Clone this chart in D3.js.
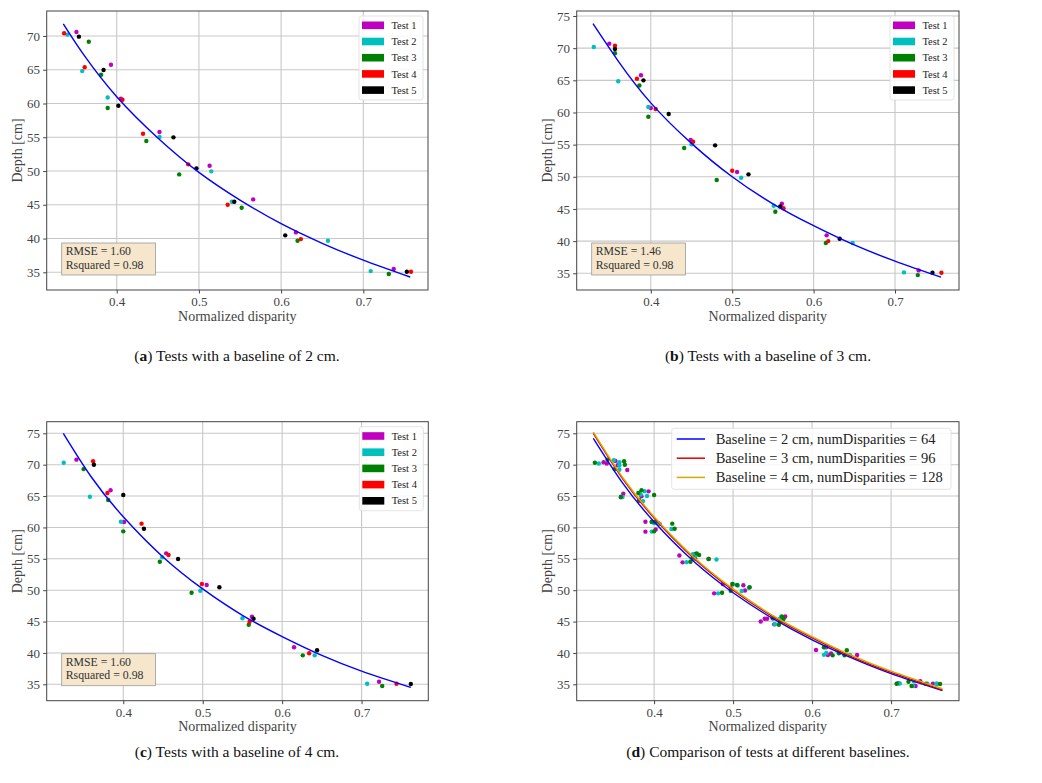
<!DOCTYPE html>
<html>
<head>
<meta charset="utf-8">
<script src="https://cdn.jsdelivr.net/npm/d3@7"></script>
<style>
  body { margin: 0; background: #fff; }
  svg text { font-family: "Liberation Serif", "Times New Roman", serif; }
</style>
</head>
<body>
<div id="chart"></div>
<script>
var testNames = ["Test 1", "Test 2", "Test 3", "Test 4", "Test 5"];
var testColors = ["#bf00bf", "#00bfbf", "#008000", "#ff0000", "#000000"];
var xTickValues = [0.4, 0.5, 0.6, 0.7];
var yTickValuesA = [35, 40, 45, 50, 55, 60, 65, 70];
var yTickValues = [35, 40, 45, 50, 55, 60, 65, 70, 75];

// (a) baseline 2 cm  [normalized disparity, depth]
var a_test1 = [[0.351,70.6],[0.393,65.75],[0.405,60.7],[0.452,55.77],[0.513,50.78],[0.566,45.8],[0.618,40.91],[0.737,35.48]];
var a_test2 = [[0.340,70.2],[0.358,64.8],[0.389,60.9],[0.452,55.04],[0.515,49.95],[0.540,45.45],[0.657,39.67],[0.709,35.18]];
var a_test3 = [[0.366,69.15],[0.381,64.26],[0.389,59.33],[0.436,54.44],[0.476,49.5],[0.552,44.56],[0.620,39.67],[0.731,34.74]];
var a_test4 = [[0.336,70.4],[0.361,65.36],[0.407,60.56],[0.432,55.52],[0.487,50.99],[0.535,45.0],[0.624,39.92],[0.758,35.08]];
var a_test5 = [[0.354,69.9],[0.384,64.96],[0.402,59.67],[0.469,54.99],[0.497,50.4],[0.543,45.45],[0.605,40.47],[0.753,35.08]];
var a_fit = [[0.335,71.8],[0.36,67.2],[0.4,61.0],[0.45,54.9],[0.5,49.8],[0.55,45.7],[0.6,42.2],[0.65,39.3],[0.7,36.8],[0.757,34.3]];
var a_stats = ["RMSE = 1.60", "Rsquared = 0.98"];

// (b) baseline 3 cm
var b_test1 = [[0.349,70.7],[0.388,65.78],[0.400,60.7],[0.449,55.72],[0.506,50.74],[0.561,45.8],[0.616,40.9],[0.729,35.45]];
var b_test2 = [[0.330,70.18],[0.360,64.85],[0.397,60.85],[0.450,55.05],[0.511,49.86],[0.551,45.5],[0.648,39.7],[0.711,35.14]];
var b_test3 = [[0.356,69.2],[0.386,64.2],[0.397,59.34],[0.441,54.47],[0.481,49.5],[0.553,44.57],[0.615,39.7],[0.728,34.72]];
var b_test4 = [[0.356,70.38],[0.383,65.25],[0.406,60.54],[0.452,55.45],[0.500,50.94],[0.563,45.1],[0.618,40.0],[0.757,35.08]];
var b_test5 = [[0.356,69.87],[0.391,65.0],[0.422,59.76],[0.479,54.89],[0.520,50.38],[0.559,45.4],[0.632,40.37],[0.746,35.08]];
var b_fit = [[0.329,73.8],[0.36,68.0],[0.4,61.5],[0.45,55.2],[0.5,50.0],[0.55,45.8],[0.6,42.4],[0.65,39.4],[0.7,36.9],[0.7565,34.4]];
var b_stats = ["RMSE = 1.46", "Rsquared = 0.98"];

// (c) baseline 4 cm
var c_test1 = [[0.341,70.8],[0.384,65.92],[0.401,60.87],[0.454,55.87],[0.505,50.83],[0.562,45.77],[0.615,40.9],[0.722,35.42]];
var c_test2 = [[0.325,70.32],[0.358,64.9],[0.397,60.91],[0.449,55.24],[0.497,49.92],[0.550,45.52],[0.641,39.62],[0.707,35.1]];
var c_test3 = [[0.350,69.3],[0.381,64.37],[0.400,59.38],[0.446,54.54],[0.486,49.6],[0.558,44.5],[0.626,39.62],[0.726,34.73]];
var c_test4 = [[0.362,70.54],[0.380,65.49],[0.423,60.6],[0.457,55.6],[0.499,50.98],[0.559,44.98],[0.634,39.94],[0.744,35.1]];
var c_test5 = [[0.363,70.0],[0.400,65.17],[0.426,59.8],[0.469,54.97],[0.521,50.46],[0.564,45.46],[0.644,40.42],[0.762,35.05]];
var c_fit = [[0.3245,75.0],[0.36,68.0],[0.4,61.7],[0.45,55.3],[0.5,50.2],[0.55,46.0],[0.6,42.6],[0.65,39.6],[0.7,37.1],[0.762,34.5]];
var c_stats = ["RMSE = 1.60", "Rsquared = 0.98"];

// (d) comparison
var d_pointColors = ["#bf00bf", "#00bfbf", "#008000"];
var d_fit2 = [[0.323,74.2],[0.36,67.1],[0.4,60.9],[0.45,54.6],[0.5,49.6],[0.55,45.5],[0.6,42.1],[0.65,39.2],[0.7,36.7],[0.765,34.0]];
var d_fit3 = [[0.323,75.0],[0.36,67.8],[0.4,61.5],[0.45,55.1],[0.5,50.0],[0.55,45.8],[0.6,42.4],[0.65,39.4],[0.7,36.9],[0.765,34.1]];
var d_fit4 = [[0.323,75.2],[0.36,68.0],[0.4,61.7],[0.45,55.3],[0.5,50.2],[0.55,46.0],[0.6,42.6],[0.65,39.6],[0.7,37.1],[0.765,34.3]];
var d_lineNames = ["Baseline = 2 cm, numDisparities = 64", "Baseline = 3 cm, numDisparities = 96", "Baseline = 4 cm, numDisparities = 128"];
var d_lineColors = ["#0000ff", "#e00000", "#d4aa00"];

function init()
{
    var svg = d3.select("#chart")
                .append("svg")
                .attr("width", 1042)
                .attr("height", 783)
                .attr("font-family", "Liberation Serif, serif");

    var panelA = {left: 46.7, top: 11, right: 428, bottom: 290, xd: [0.3148, 0.7787], yd: [32.38, 73.7], yt: yTickValuesA};
    var panelB = {left: 576.7, top: 11, right: 959, bottom: 290, xd: [0.309, 0.7786], yd: [32.4, 75.78], yt: yTickValues};
    var panelC = {left: 46.7, top: 421.7, right: 428.3, bottom: 700.7, xd: [0.3036, 0.784], yd: [32.39, 76.85], yt: yTickValues};
    var panelD = {left: 576.7, top: 421.7, right: 959, bottom: 700.7, xd: [0.302, 0.786], yd: [32.39, 76.85], yt: yTickValues};

    var sA = drawAxes(panelA);
    drawTests(sA, [a_test1, a_test2, a_test3, a_test4, a_test5], testColors);
    drawFit(sA, a_fit, "#0000ff");
    drawTestLegend(panelA);
    drawStats(panelA, a_stats);

    var sB = drawAxes(panelB);
    drawTests(sB, [b_test1, b_test2, b_test3, b_test4, b_test5], testColors);
    drawFit(sB, b_fit, "#0000ff");
    drawTestLegend(panelB);
    drawStats(panelB, b_stats);

    var sC = drawAxes(panelC);
    drawTests(sC, [c_test1, c_test2, c_test3, c_test4, c_test5], testColors);
    drawFit(sC, c_fit, "#0000ff");
    drawTestLegend(panelC);
    drawStats(panelC, c_stats);

    var sD = drawAxes(panelD);
    drawTests(sD, [
        [].concat(a_test1, a_test2, a_test3, a_test4, a_test5),
        [].concat(b_test1, b_test2, b_test3, b_test4, b_test5),
        [].concat(c_test1, c_test2, c_test3, c_test4, c_test5)
    ], d_pointColors);
    drawFit(sD, d_fit2, d_lineColors[0]);
    drawFit(sD, d_fit3, d_lineColors[1]);
    drawFit(sD, d_fit4, d_lineColors[2]);
    drawLineLegend(panelD);

    caption(237, 361, "a", ") Tests with a baseline of 2 cm.");
    caption(768, 361, "b", ") Tests with a baseline of 3 cm.");
    caption(237, 757, "c", ") Tests with a baseline of 4 cm.");
    caption(768, 757, "d", ") Comparison of tests at different baselines.");

    function drawAxes(p)
    {
        var x = d3.scaleLinear().domain(p.xd).range([p.left, p.right]);
        var y = d3.scaleLinear().domain(p.yd).range([p.bottom, p.top]);
        var g = svg.append("g");

        g.selectAll(".gx").data(xTickValues).enter().append("line")
            .attr("x1", function(d) { return x(d); })
            .attr("x2", function(d) { return x(d); })
            .attr("y1", p.top).attr("y2", p.bottom)
            .style("stroke", "#c8c8c8").style("stroke-width", 1.1);
        g.selectAll(".gy").data(p.yt).enter().append("line")
            .attr("x1", p.left).attr("x2", p.right)
            .attr("y1", function(d) { return y(d); })
            .attr("y2", function(d) { return y(d); })
            .style("stroke", "#c8c8c8").style("stroke-width", 1.1);

        var xa = g.append("g")
            .attr("transform", "translate(0," + p.bottom + ")")
            .call(d3.axisBottom(x).tickValues(xTickValues).tickFormat(d3.format(".1f")).tickSize(3.5).tickPadding(3.5));
        var ya = g.append("g")
            .attr("transform", "translate(" + p.left + ",0)")
            .call(d3.axisLeft(y).tickValues(p.yt).tickFormat(d3.format("d")).tickSize(3.5).tickPadding(3.2));
        [xa, ya].forEach(function(a) {
            a.attr("font-family", "Liberation Serif, serif");
            a.select(".domain").remove();
            a.selectAll("line").style("stroke", "#444");
            a.selectAll("text").style("font-family", "Liberation Serif, serif").style("font-size", "13px").style("fill", "#444");
        });

        g.append("rect")
            .attr("x", p.left).attr("y", p.top)
            .attr("width", p.right - p.left).attr("height", p.bottom - p.top)
            .style("fill", "none").style("stroke", "#444").style("stroke-width", 1);

        g.append("text")
            .attr("x", (p.left + p.right) / 2).attr("y", p.bottom + 30.5)
            .attr("text-anchor", "middle")
            .style("font-size", "14px").style("fill", "#444")
            .text("Normalized disparity");
        g.append("text")
            .attr("transform", "translate(" + (p.left - 24.7) + "," + ((p.top + p.bottom) / 2) + ") rotate(-90)")
            .attr("text-anchor", "middle")
            .style("font-size", "14px").style("fill", "#444")
            .text("Depth [cm]");

        return {g: g, x: x, y: y};
    }

    function drawTests(s, sets, colors)
    {
        sets.forEach(function(set, i) {
            s.g.append("g").selectAll("circle")
                .data(set)
                .enter()
                .append("circle")
                .attr("cx", function(d) { return s.x(d[0]); })
                .attr("cy", function(d) { return s.y(d[1]); })
                .attr("r", 2.2)
                .style("fill", colors[i]);
        });
    }

    function drawFit(s, pts, color)
    {
        var line = d3.line()
            .x(function(d) { return s.x(d[0]); })
            .y(function(d) { return s.y(d[1]); })
            .curve(d3.curveNatural);
        s.g.append("path")
            .datum(pts)
            .attr("d", line)
            .style("fill", "none")
            .style("stroke", color)
            .style("stroke-width", 1.4);
    }

    function drawTestLegend(p)
    {
        var bx = p.right - 69, by = p.top + 5;
        var lg = svg.append("g");
        lg.append("rect")
            .attr("x", bx).attr("y", by).attr("width", 64).attr("height", 84)
            .attr("rx", 2.5)
            .style("fill", "#ffffff").style("fill-opacity", 0.85)
            .style("stroke", "#dddddd").style("stroke-width", 0.8);
        var rows = lg.selectAll(".row").data(testNames).enter().append("g")
            .attr("transform", function(d, i) { return "translate(" + bx + "," + (by + 9.3 + i * 16.2) + ")"; });
        rows.append("rect")
            .attr("x", 3).attr("y", -3.8).attr("width", 22).attr("height", 7.6)
            .style("fill", function(d, i) { return testColors[i]; });
        rows.append("text")
            .attr("x", 32.4).attr("y", 3.6)
            .style("font-size", "10.5px").style("fill", "#222")
            .text(function(d) { return d; });
    }

    function drawStats(p, lines)
    {
        var bx = p.left + 15, by = p.bottom - 47;
        svg.append("rect")
            .attr("x", bx).attr("y", by).attr("width", 93.7).attr("height", 32)
            .style("fill", "#f5e6cc").style("stroke", "#9a9a9a").style("stroke-width", 0.8);
        svg.selectAll(null).data(lines).enter().append("text")
            .attr("x", bx + 4)
            .attr("y", function(d, i) { return by + 12 + i * 13.6; })
            .style("font-size", "11.8px").style("fill", "#333")
            .text(function(d) { return d; });
    }

    function drawLineLegend(p)
    {
        var bx = p.left + 95, by = p.top + 6.6;
        var lg = svg.append("g");
        lg.append("rect")
            .attr("x", bx).attr("y", by).attr("width", p.right - 8 - bx).attr("height", 61)
            .attr("rx", 2.5)
            .style("fill", "#ffffff").style("fill-opacity", 0.85)
            .style("stroke", "#dddddd").style("stroke-width", 0.8);
        var rows = lg.selectAll(".row").data(d_lineNames).enter().append("g")
            .attr("transform", function(d, i) { return "translate(" + bx + "," + (by + 10.7 + i * 19.2) + ")"; });
        rows.append("line")
            .attr("x1", 5).attr("x2", 33.3).attr("y1", 0).attr("y2", 0)
            .style("stroke", function(d, i) { return d_lineColors[i]; })
            .style("stroke-width", 1.5);
        rows.append("text")
            .attr("x", 44).attr("y", 4.8)
            .style("font-size", "14.5px").style("fill", "#222")
            .text(function(d) { return d; });
    }

    function caption(cx, cy, letter, rest)
    {
        var t = svg.append("text")
            .attr("x", cx).attr("y", cy)
            .attr("text-anchor", "middle")
            .style("font-size", "15.5px").style("fill", "#111");
        t.append("tspan").text("(");
        t.append("tspan").style("font-weight", "bold").text(letter);
        t.append("tspan").text(rest);
    }
}
window.onload = init;
</script>
</body>
</html>
